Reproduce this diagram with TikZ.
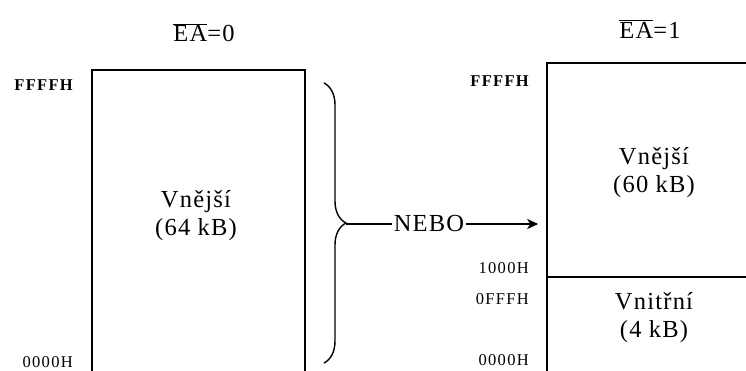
\documentclass[tikz,border=0pt]{standalone}
\usepackage{fontspec}
\setmainfont{Liberation Serif}
\newfontfamily\spacedserif[LetterSpace=5]{Liberation Serif}
\newfontfamily\addrserif[LetterSpace=8]{Liberation Serif}
\usetikzlibrary{arrows.meta,decorations.pathreplacing}
\definecolor{edgeblack}{HTML}{000000}
\newcommand{\memtext}{\spacedserif\fontsize{24.5}{28}\selectfont}
\newcommand{\addrtext}{\addrserif\fontsize{16.5}{18}\selectfont}
\tikzset{
  >={Stealth[length=11pt,width=10pt,inset=3pt]},
  memblock/.style={draw=edgeblack,line width=1.6pt,inner sep=0pt},
  memlabel/.style={font=\memtext,align=center,inner sep=0pt},
  addr/.style={font=\addrtext,anchor=east,inner sep=0pt},
  flow/.style={draw=edgeblack,line width=1.3pt},
  bracestyle/.style={draw=edgeblack,line width=1.4pt,decorate,decoration={brace,amplitude=22pt}}
}
\begin{document}
\begin{tikzpicture}[x=1pt,y=-1pt]
  \useasboundingbox (0,0) rectangle (746,370);
  \clip (0,0) rectangle (746,370);

  % Mode headings.
  \node[memlabel] (headzero) at (204,33) {$\overline{\mbox{EA}}$=0};
  \node[memlabel] (headone) at (650,29) {$\overline{\mbox{EA}}$=1};

  % External memory only.
  \node[memblock,minimum width=213pt,minimum height=312pt] (extall) at (198.5,226) {};
  \node[memlabel] (extalltext) at (196,216) {Vnější\\(64 kB)};
  \node[addr,font=\addrtext\bfseries] (topzero) at (73,85) {FFFFH};
  \node[addr] (botzero) at (73,362) {0000H};

  % Internal plus external memory.
  \node[memblock,minimum width=215pt,minimum height=214pt] (extpart) at (654.5,170) {};
  \node[memblock,minimum width=215pt,minimum height=103pt] (intpart) at (654.5,328.5) {};
  \node[memlabel] (extparttext) at (654,173) {Vnější\\(60 kB)};
  \node[memlabel] (intparttext) at (654,318) {Vnitřní\\(4 kB)};
  \node[addr,font=\addrtext\bfseries] (topone) at (529,81) {FFFFH};
  \node[addr] (splithigh) at (529,268) {1000H};
  \node[addr] (splitlow) at (529,299) {0FFFH};
  \node[addr] (botone) at (529,360) {0000H};

  % Brace and the alternative arrow.
  \coordinate (bracetop) at (324,83);
  \coordinate (bracebot) at (324,363);
  \coordinate (bracetip) at (346,224);
  \draw[bracestyle] (bracetop) -- (bracebot);
  \node[memlabel,inner xsep=2pt] (nebo) at (429,224) {NEBO};
  \draw[flow] (bracetip) -- (nebo.west);
  \draw[flow,->,shorten >=8pt] (nebo.east) -- (extpart.west |- nebo.east);
\end{tikzpicture}
\end{document}
